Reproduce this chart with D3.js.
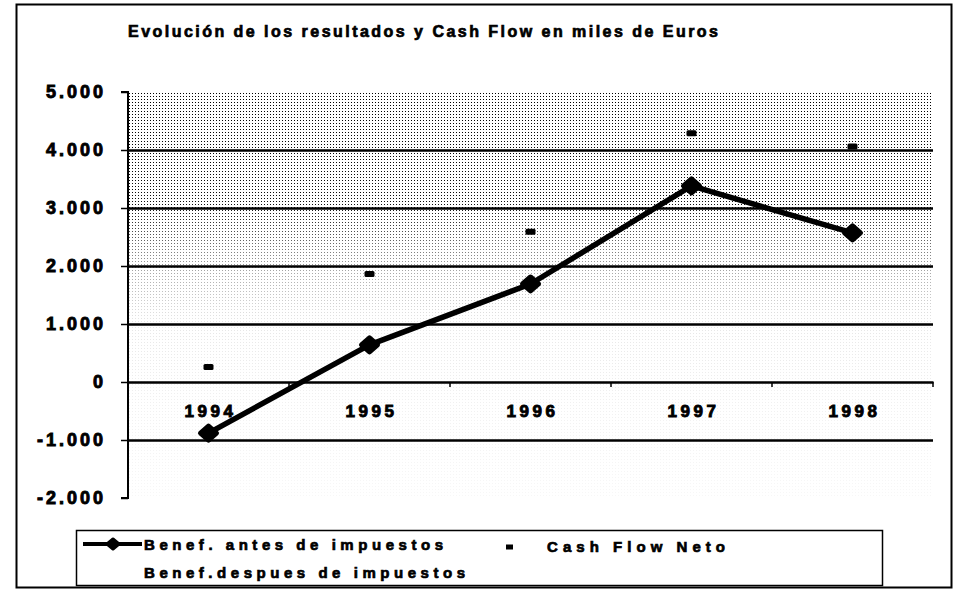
<!DOCTYPE html>
<html>
<head>
<meta charset="utf-8">
<script src="https://cdn.jsdelivr.net/npm/d3@7/dist/d3.min.js"></script>
<style>
  html, body { margin: 0; padding: 0; background: #fff; }
  svg { display: block; font-family: "Liberation Sans", Arial, sans-serif; }
  .ytick text { font-size: 18px; font-weight: bold; letter-spacing: 3px; fill: #000; stroke: #000; stroke-width: 0.9px; }
  .xtick text { font-size: 17px; font-weight: bold; letter-spacing: 3.5px; fill: #000; stroke: #000; stroke-width: 0.9px; }
  .heavy { stroke: #000; stroke-width: 0.7px; }
</style>
</head>
<body>
<svg id="chart" width="953" height="591"></svg>
<script>
// Evolución de los resultados y Cash Flow (miles de euros)

const years = ["1994", "1995", "1996", "1997", "1998"];
const beneficioAntes = [-880, 640, 1690, 3380, 2570];
const cashFlowNeto = [260, 1860, 2590, 4290, 4060];
const yTicks = [-2000, -1000, 0, 1000, 2000, 3000, 4000, 5000];
const gridValues = [-1000, 1000, 2000, 3000, 4000];
const titleText = "Evolución de los resultados y Cash Flow en miles de Euros";
const legendLabels = ["Benef. antes de impuestos", "Cash Flow Neto", "Benef.despues de impuestos"];

const W = 953, H = 591;
const plot = { left: 128, right: 933, top: 92, bottom: 498 };

const svg = d3.select("#chart");

const locale = d3.formatLocale({ decimal: ",", thousands: ".", grouping: [3], currency: ["", " €"], minus: "-" });
const fmt = locale.format(",");

const x = d3.scaleBand().domain(years).range([plot.left, plot.right]);
const y = d3.scaleLinear().domain([-2000, 5000]).range([plot.bottom, plot.top]);
const cx = (yr) => x(yr) + x.bandwidth() / 2;

// outer frame
svg.append("rect")
  .attr("x", 16.5).attr("y", 4.5).attr("width", 935).attr("height", 583)
  .attr("fill", "#fff").attr("stroke", "#000").attr("stroke-width", 2);

// title
svg.append("text")
  .attr("class", "heavy")
  .attr("x", 128).attr("y", 37)
  .attr("font-size", 16).attr("font-weight", "bold")
  .attr("textLength", 590).attr("lengthAdjust", "spacing")
  .text(titleText);

// stippled plot background, dense at the top and fading out downwards
const defs = svg.append("defs");
const pat = defs.append("pattern")
  .attr("id", "dots").attr("patternUnits", "userSpaceOnUse")
  .attr("width", 3).attr("height", 3);
pat.append("rect").attr("width", 1).attr("height", 1).attr("fill", "#000");

const grad = defs.append("linearGradient")
  .attr("id", "fade").attr("gradientUnits", "userSpaceOnUse")
  .attr("x1", 0).attr("x2", 0).attr("y1", plot.top).attr("y2", plot.bottom);
[[0, 1], [0.28, 0.95], [0.42, 0.4], [0.56, 0.1], [0.75, 0.06], [1, 0.03]].forEach(([o, a]) => {
  grad.append("stop").attr("offset", o).attr("stop-color", "#fff").attr("stop-opacity", a);
});
defs.append("mask").attr("id", "fadeMask")
  .append("rect")
  .attr("x", plot.left).attr("y", plot.top)
  .attr("width", plot.right - plot.left).attr("height", plot.bottom - plot.top)
  .attr("fill", "url(#fade)");

svg.append("rect")
  .attr("x", plot.left).attr("y", plot.top)
  .attr("width", plot.right - plot.left).attr("height", plot.bottom - plot.top)
  .attr("fill", "url(#dots)").attr("mask", "url(#fadeMask)");

// gridlines
svg.append("g")
  .attr("transform", `translate(${plot.left},0)`)
  .call(d3.axisLeft(y).tickValues(gridValues).tickSize(-(plot.right - plot.left)).tickFormat(""))
  .call((g) => g.select(".domain").remove())
  .call((g) => g.selectAll("line").attr("stroke", "#000").attr("stroke-width", 2.5));

// y axis
svg.append("g")
  .attr("class", "ytick")
  .attr("transform", `translate(${plot.left},0)`)
  .call(d3.axisLeft(y).tickValues(yTicks).tickSize(7).tickPadding(18).tickFormat(fmt))
  .call((g) => g.select(".domain").attr("d", `M-7,${plot.top}H0V${plot.bottom}H-7`).attr("stroke-width", 2))
  .call((g) => g.selectAll("line").attr("stroke-width", 1.5))
  .call((g) => g.selectAll("text").attr("dx", "3px"));

// x axis at zero
const xAxis = svg.append("g")
  .attr("class", "xtick")
  .attr("transform", `translate(0,${y(0)})`)
  .call(d3.axisBottom(x).tickSize(0).tickPadding(23))
  .call((g) => g.select(".domain").attr("stroke-width", 2.5))
  .call((g) => g.selectAll("text").attr("dx", "2px"));

xAxis.selectAll(".bound")
  .data(years.slice(1).concat(["end"]))
  .join("line")
  .attr("class", "bound")
  .attr("x1", (d) => d === "end" ? plot.right : x(d))
  .attr("x2", (d) => d === "end" ? plot.right : x(d))
  .attr("y1", 0).attr("y2", 5)
  .attr("stroke", "#000").attr("stroke-width", 1.5);

// series 1: line with diamond markers
const pts = years.map((yr, i) => ({ yr, v: beneficioAntes[i] }));
svg.append("path")
  .datum(pts)
  .attr("fill", "none").attr("stroke", "#000").attr("stroke-width", 5.5)
  .attr("stroke-linejoin", "round")
  .attr("d", d3.line().x((d) => cx(d.yr)).y((d) => y(d.v)));

const diamond = (w, h) => `M0,${-h}L${w},0L0,${h}L${-w},0Z`;
svg.append("g").selectAll("path")
  .data(pts)
  .join("path")
  .attr("transform", (d) => `translate(${cx(d.yr)},${y(d.v)})`)
  .attr("d", diamond(8, 7))
  .attr("fill", "#000").attr("stroke", "#000").attr("stroke-width", 5).attr("stroke-linejoin", "round");

// series 2: dash markers only
svg.append("g").selectAll("rect")
  .data(years.map((yr, i) => ({ yr, v: cashFlowNeto[i] })))
  .join("rect")
  .attr("x", (d) => cx(d.yr) - 5).attr("y", (d) => y(d.v) - 3)
  .attr("width", 10).attr("height", 6).attr("rx", 1.5)
  .attr("fill", "#000");

// legend
const leg = svg.append("g");
leg.append("rect")
  .attr("x", 76.5).attr("y", 530.5).attr("width", 806).attr("height", 55)
  .attr("fill", "#fff").attr("stroke", "#000").attr("stroke-width", 1.5);

leg.append("line")
  .attr("x1", 83).attr("x2", 142).attr("y1", 544).attr("y2", 544)
  .attr("stroke", "#000").attr("stroke-width", 4);
leg.append("path")
  .attr("transform", "translate(113,544)")
  .attr("d", diamond(6, 5))
  .attr("fill", "#000").attr("stroke", "#000").attr("stroke-width", 3).attr("stroke-linejoin", "round");
leg.append("rect")
  .attr("x", 506).attr("y", 544.5).attr("width", 7).attr("height", 5).attr("fill", "#000");

const legendPos = [
  { x: 144, y: 549.5, len: 299 },
  { x: 547, y: 552, len: 178 },
  { x: 144, y: 577.5, len: 321 }
];
leg.selectAll("text.lab")
  .data(legendLabels)
  .join("text")
  .attr("class", "lab heavy")
  .attr("x", (d, i) => legendPos[i].x).attr("y", (d, i) => legendPos[i].y)
  .attr("font-size", 15).attr("font-weight", "bold")
  .attr("textLength", (d, i) => legendPos[i].len).attr("lengthAdjust", "spacing")
  .text((d) => d);
</script>
</body>
</html>
